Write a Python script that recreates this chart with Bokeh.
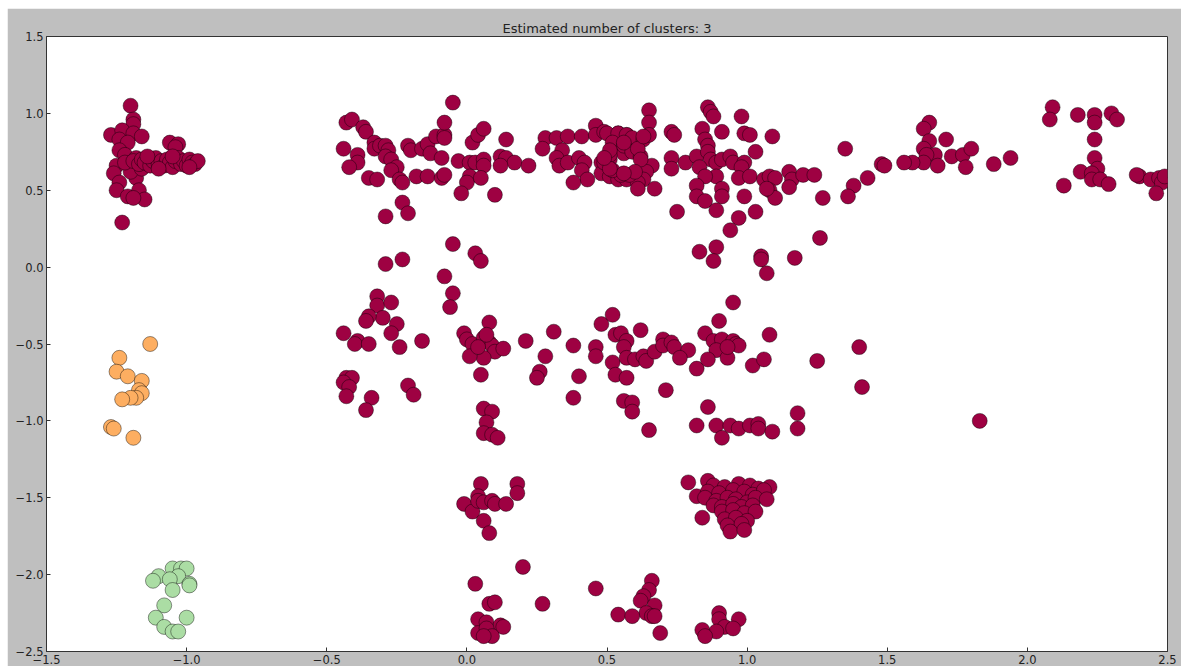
from bokeh.plotting import figure
from bokeh.layouts import column, row
from bokeh.models import Spacer, FixedTicker
from bokeh.embed import file_html
from bokeh.resources import INLINE

# ---- cluster members (x, y) ----
red_x = [
    # left group
    -1.20, -1.19, -1.19, -1.27, -1.23, -1.19, -1.16, -1.24, -1.21, -1.06, -1.03, -1.04,
    -1.24, -1.22, -1.25, -1.26, -1.24, -1.25, -1.21, -1.18, -1.17, -1.15, -1.19, -1.23,
    -1.20, -1.22, -1.18, -1.16,
    -1.19, -1.17, -1.16, -1.15, -1.13, -1.12, -1.11, -1.10, -1.09, -1.08, -1.07, -1.06,
    -1.05, -1.04, -1.03, -1.02, -1.01, -1.00, -0.99, -0.98, -0.97, -0.96, -1.14, -1.10,
    -1.05, -0.99,
    # upper band, left part
    -0.05, -0.43, -0.41, -0.37, -0.36, -0.44, -0.33, -0.33, -0.31, -0.29, -0.28, -0.29,
    -0.39, -0.39, -0.42, -0.27, -0.25, -0.27, -0.35, -0.32, -0.24, -0.23, -0.21, -0.20,
    -0.16, -0.14, -0.13, -0.11, -0.08, -0.08, -0.08, -0.09, -0.18, -0.14, -0.09, -0.08,
    -0.23, -0.21, -0.29, -0.03, 0.01, 0.03, 0.06, 0.06, 0.02, 0.04, 0.06, 0.01,
    0.00, -0.02, 0.05, 0.10, 0.14, 0.12, 0.14, 0.17, 0.12, 0.22, 0.28, 0.27,
    0.32, 0.36, 0.41, 0.34, 0.32, 0.33, 0.36, 0.40, 0.42, 0.41, 0.43, 0.38,
    0.46, 0.46, 0.49, 0.54, 0.57, 0.48, 0.48, 0.51, 0.54, 0.57, 0.52, 0.56,
    0.51, 0.56,
    # near zero
    -0.05, 0.03, 0.05, -0.29, -0.23, -0.08,
    # ring
    0.50, 0.54, 0.57, 0.59, 0.63, 0.52, 0.56, 0.59, 0.62, 0.66, 0.64, 0.63,
    0.61, 0.58, 0.55, 0.52, 0.49, 0.51, 0.61, 0.51, 0.56, 0.61, 0.62, 0.60,
    0.56, 0.51, 0.49,
    # upper band, middle part
    0.65, 0.65, 0.65, 0.63, 0.86, 0.87, 0.88, 0.84, 0.98, 0.91, 0.99, 1.01,
    1.09, 0.73, 0.74, 0.85, 0.86, 1.03, 0.73, 0.73, 0.78, 0.82, 0.86, 0.87,
    0.89, 0.91, 0.94, 0.95, 0.99, 0.98, 0.83, 0.89, 0.85, 0.82, 0.91, 0.97,
    1.01, 0.82, 0.85, 0.91, 0.89, 0.99, 1.03, 0.97, 0.94, 0.75, 1.06, 1.08,
    1.10, 1.08, 1.10, 1.07, 1.15, 1.16, 1.15, 1.20, 1.24, 1.27, 1.35, 1.38,
    1.36, 1.43, 1.48, 1.26, 0.83, 0.89, 0.88, 1.05, 1.05, 1.07, 1.17, 0.67,
    # upper band, right part
    1.65, 1.63, 1.71, 1.65, 1.63, 1.67, 1.64, 1.63, 1.68, 1.59, 1.56, 1.49,
    1.73, 1.77, 1.80, 1.78, 1.88, 1.94, 2.09, 2.08, 2.18, 2.24, 2.24, 2.30,
    2.32, 2.24, 2.24, 2.25, 2.19, 2.23, 2.23, 2.26, 2.29, 2.13, 2.40, 2.39,
    2.44, 2.47, 2.48, 2.49, 2.46,
    # middle band, left part
    -0.05, -0.06, -0.32, -0.32, -0.27, -0.30, -0.35, -0.36, -0.25, -0.27, -0.44, -0.39,
    -0.40, -0.35, -0.24, -0.16, -0.01, 0.00, 0.02, 0.08, 0.06, 0.08, 0.09, 0.10,
    0.06, 0.13, 0.01, 0.05, 0.21, 0.31, 0.28, 0.26, 0.25, 0.38, 0.40, 0.38,
    0.48, 0.52, 0.46, 0.46, 0.53, 0.52, 0.53, -0.43, -0.41, -0.44, -0.42, -0.43,
    -0.34, -0.36, -0.21, -0.19, 0.06, 0.09, 0.07, 0.06, 0.09, 0.11, 0.07, 0.04,
    # middle band, right part
    0.95, 0.90, 0.55, 0.62, 0.57, 0.56, 0.57, 0.60, 0.63, 0.64, 0.67, 0.70,
    0.70, 0.73, 0.74, 0.79, 0.76, 0.82, 0.57, 0.85, 0.88, 0.91, 0.89, 0.86,
    0.93, 0.95, 0.96, 0.97, 0.93, 1.02, 1.06, 1.08, 1.25, 1.40, 1.41, 0.71,
    0.56, 0.59, 0.59, 0.65, 0.86, 0.82, 0.89, 0.91, 0.94, 0.97, 1.01, 1.04,
    1.04, 1.09, 1.18, 1.18, 1.83,
    # lower groups
    0.05, 0.04, -0.01, 0.02, 0.04, 0.06, 0.09, 0.10, 0.14, 0.06, 0.08, 0.18,
    0.18, 0.79, 0.82, 0.84, 0.86, 1.08,
    0.88, 0.92, 0.97, 1.01, 1.04, 0.86, 0.90, 0.95, 0.99, 1.02, 1.06, 0.85,
    0.89, 0.93, 0.96, 1.00, 1.03, 1.07, 0.88, 0.91, 0.95, 0.98, 1.02, 0.91,
    0.95, 0.99, 1.03, 0.92, 0.96, 1.00, 0.93, 0.98, 0.94, 0.99,
    # bottom groups
    0.20, 0.03, 0.08, 0.10, 0.27, 0.04, 0.07, 0.12, 0.13, 0.04, 0.07, 0.09,
    0.06, 0.46, 0.66, 0.65, 0.63, 0.62, 0.67, 0.64, 0.66, 0.67, 0.54, 0.59,
    0.69, 0.90, 0.90, 0.97, 0.92, 0.95, 0.89, 0.84, 0.85,
]
red_y = [
    1.05, 0.96, 0.93, 0.86, 0.89, 0.87, 0.85, 0.83, 0.81, 0.81, 0.80, 0.78,
    0.76, 0.73, 0.66, 0.61, 0.55, 0.50, 0.46, 0.58, 0.50, 0.44, 0.45, 0.29,
    0.62, 0.68, 0.71, 0.64,
    0.69, 0.67, 0.70, 0.68, 0.66, 0.69, 0.71, 0.67, 0.69, 0.66, 0.70, 0.68,
    0.65, 0.69, 0.71, 0.67, 0.69, 0.66, 0.70, 0.68, 0.67, 0.69, 0.72, 0.64,
    0.72, 0.65,
    1.07, 0.94, 0.96, 0.91, 0.88, 0.77, 0.81, 0.77, 0.79, 0.79, 0.76, 0.72,
    0.73, 0.68, 0.65, 0.70, 0.65, 0.63, 0.58, 0.57, 0.57, 0.55, 0.79, 0.76,
    0.77, 0.80, 0.74, 0.85, 0.86, 0.94, 0.84, 0.71, 0.59, 0.59, 0.58, 0.60,
    0.42, 0.35, 0.33, 0.69, 0.68, 0.68, 0.70, 0.66, 0.81, 0.86, 0.90, 0.59,
    0.55, 0.48, 0.58, 0.47, 0.83, 0.72, 0.71, 0.68, 0.66, 0.66, 0.84, 0.77,
    0.84, 0.85, 0.85, 0.76, 0.71, 0.66, 0.68, 0.71, 0.68, 0.63, 0.57, 0.55,
    0.92, 0.86, 0.88, 0.87, 0.86, 0.68, 0.61, 0.59, 0.57, 0.57, 0.76, 0.74,
    0.70, 0.80,
    0.15, 0.09, 0.04, 0.02, 0.05, -0.06,
    0.87, 0.87, 0.86, 0.84, 0.83, 0.81, 0.79, 0.75, 0.72, 0.66, 0.62, 0.57,
    0.55, 0.60, 0.60, 0.63, 0.68, 0.73, 0.51, 0.76, 0.81, 0.77, 0.70, 0.62,
    0.61, 0.64, 0.71,
    1.02, 0.94, 0.86, 0.85, 1.04, 1.01, 0.98, 0.90, 0.98, 0.88, 0.87, 0.86,
    0.85, 0.88, 0.86, 0.83, 0.79, 0.75, 0.71, 0.64, 0.68, 0.72, 0.75, 0.70,
    0.68, 0.70, 0.72, 0.68, 0.68, 0.65, 0.65, 0.59, 0.59, 0.53, 0.51, 0.58,
    0.59, 0.46, 0.43, 0.46, 0.37, 0.46, 0.36, 0.32, 0.24, 0.36, 0.57, 0.59,
    0.58, 0.50, 0.45, 0.51, 0.62, 0.57, 0.52, 0.60, 0.60, 0.45, 0.77, 0.53,
    0.46, 0.58, 0.67, 0.19, 0.10, 0.13, 0.04, 0.07, 0.05, -0.04, 0.06, 0.51,
    0.94, 0.90, 0.83, 0.82, 0.77, 0.73, 0.73, 0.68, 0.66, 0.68, 0.68, 0.66,
    0.72, 0.73, 0.77, 0.65, 0.67, 0.71, 1.04, 0.96, 0.99, 0.99, 0.94, 1.00,
    0.96, 0.83, 0.71, 0.64, 0.62, 0.61, 0.57, 0.57, 0.54, 0.53, 0.59, 0.60,
    0.57, 0.58, 0.55, 0.59, 0.48,
    -0.17, -0.26, -0.19, -0.25, -0.23, -0.33, -0.32, -0.35, -0.37, -0.43, -0.43, -0.48,
    -0.50, -0.50, -0.52, -0.48, -0.43, -0.47, -0.50, -0.36, -0.46, -0.49, -0.51, -0.55,
    -0.59, -0.53, -0.58, -0.70, -0.48, -0.42, -0.58, -0.68, -0.72, -0.51, -0.71, -0.85,
    -0.37, -0.31, -0.52, -0.58, -0.44, -0.62, -0.70, -0.72, -0.72, -0.75, -0.78, -0.84,
    -0.85, -0.93, -0.77, -0.83, -0.92, -0.94, -1.01, -1.08, -1.09, -1.11, -0.44, -0.52,
    -0.23, -0.35, -0.43, -0.41, -0.48, -0.52, -0.59, -0.60, -0.58, -0.61, -0.55, -0.47,
    -0.51, -0.49, -0.52, -0.54, -0.59, -0.66, -0.72, -0.43, -0.48, -0.47, -0.54, -0.60,
    -0.59, -0.48, -0.50, -0.51, -0.52, -0.64, -0.60, -0.44, -0.61, -0.52, -0.78, -0.80,
    -0.87, -0.88, -0.94, -1.06, -0.91, -1.03, -1.03, -1.11, -1.03, -1.05, -1.03, -1.02,
    -1.05, -1.07, -1.05, -0.95, -1.00,
    -1.41, -1.49, -1.54, -1.59, -1.52, -1.53, -1.52, -1.54, -1.54, -1.65, -1.73, -1.41,
    -1.47, -1.40, -1.49, -1.63, -1.39, -1.43,
    -1.42, -1.43, -1.41, -1.42, -1.44, -1.46, -1.47, -1.45, -1.46, -1.48, -1.45, -1.50,
    -1.52, -1.50, -1.51, -1.53, -1.50, -1.51, -1.55, -1.56, -1.54, -1.56, -1.55, -1.59,
    -1.58, -1.60, -1.59, -1.64, -1.63, -1.65, -1.68, -1.67, -1.72, -1.71,
    -1.95, -2.06, -2.19, -2.18, -2.19, -2.29, -2.31, -2.33, -2.34, -2.38, -2.35, -2.40,
    -2.40, -2.09, -2.04, -2.10, -2.14, -2.17, -2.20, -2.25, -2.27, -2.27, -2.26, -2.27,
    -2.38, -2.25, -2.29, -2.29, -2.34, -2.35, -2.37, -2.36, -2.40,
]

orange_x = [-1.13, -1.24, -1.25, -1.21, -1.16, -1.17, -1.16, -1.18, -1.20, -1.23, -1.27, -1.26, -1.19]
orange_y = [-0.50, -0.59, -0.68, -0.71, -0.74, -0.80, -0.82, -0.85, -0.85, -0.86, -1.04, -1.05, -1.11]

green_x = [-1.05, -1.02, -1.00, -1.03, -1.10, -1.12, -1.06, -0.99, -0.99, -1.05, -1.08, -1.11, -1.00, -1.08, -1.05, -1.03]
green_y = [-1.96, -1.96, -1.96, -2.01, -2.01, -2.04, -2.03, -2.06, -2.07, -2.10, -2.20, -2.28, -2.28, -2.34, -2.37, -2.37]

cluster_colors = ["#9e0142", "#fdae61", "#abdda4"]
tick_values = [-1.5, -1.0, -0.5, 0.0, 0.5, 1.0, 1.5, 2.0, 2.5]
ytick_values = [-2.5, -2.0, -1.5, -1.0, -0.5, 0.0, 0.5, 1.0, 1.5]


def tick_text(v):
    s = f"{v:.1f}"
    return s.replace("-", "\u2212")


p = figure(
    width=1174, height=658,
    x_range=(-1.5, 2.5), y_range=(-2.5, 1.5),
    output_backend="svg", toolbar_location=None,
    title="Estimated number of clusters: 3",
    background_fill_color="white", border_fill_color="#bfbfbf",
    min_border_left=39, min_border_right=14, min_border_top=28, min_border_bottom=0,
)
p.title.align = "center"
p.title.text_font = "DejaVu Sans"
p.title.text_font_size = "13px"
p.title.text_font_style = "normal"
p.title.text_color = "#222222"
p.title.standoff = 2

p.outline_line_color = "#333333"
p.outline_line_width = 1
p.grid.visible = False

for ax, ticks in ((p.xaxis[0], tick_values), (p.yaxis[0], ytick_values)):
    ax.ticker = FixedTicker(ticks=ticks)
    ax.major_label_overrides = {t: tick_text(t) for t in ticks}
    ax.major_tick_in = 4
    ax.major_tick_out = 0
    ax.minor_tick_in = 0
    ax.minor_tick_out = 0
    ax.axis_line_color = "#333333"
    ax.major_tick_line_color = "#333333"
    ax.major_label_text_font = "DejaVu Sans"
    ax.major_label_text_font_size = "11.5px"
    ax.major_label_text_color = "#222222"
    ax.major_label_standoff = 3

for xs, ys, color in ((red_x, red_y, cluster_colors[0]),
                      (orange_x, orange_y, cluster_colors[1]),
                      (green_x, green_y, cluster_colors[2])):
    p.scatter(xs, ys, size=15, fill_color=color,
              line_color="black", line_width=0.6, line_alpha=0.7)

page = column(Spacer(height=8), row(Spacer(width=7), p))
open("out.html", "w").write(file_html(page, INLINE))
